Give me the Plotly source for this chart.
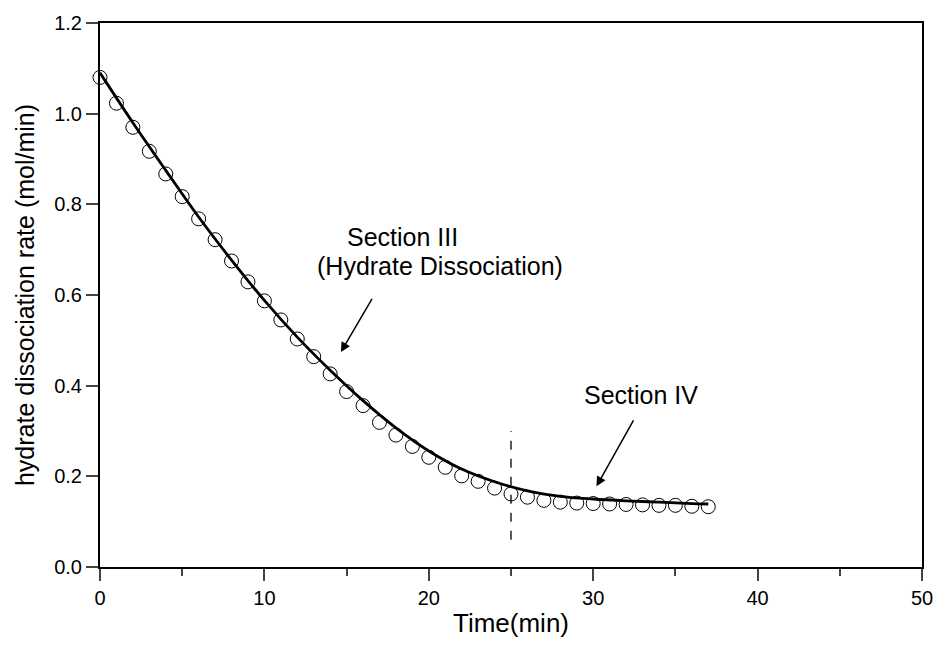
import plotly.graph_objects as go

# Measured data (open circles)
time_pts = list(range(0, 38))
rate_pts = [1.080, 1.023, 0.970, 0.917, 0.867, 0.817, 0.768, 0.722, 0.675, 0.629,
            0.587, 0.545, 0.503, 0.464, 0.426, 0.387, 0.356, 0.319, 0.291, 0.266,
            0.242, 0.220, 0.201, 0.189, 0.174, 0.161, 0.154, 0.147, 0.143, 0.141,
            0.140, 0.139, 0.138, 0.137, 0.136, 0.136, 0.134, 0.133]

# Fitted curve (solid line)
fit_t = [0, 2, 4, 6, 8, 10, 12, 14, 16, 18, 20, 22, 24, 26, 28, 30, 32, 34, 36, 37]
fit_r = [1.090, 0.980, 0.875, 0.772, 0.677, 0.588, 0.507, 0.434, 0.367, 0.307,
         0.256, 0.216, 0.188, 0.168, 0.156, 0.150, 0.146, 0.143, 0.140, 0.139]

# Section boundary
boundary_x = [25, 25]
boundary_y = [0.06, 0.30]

font = "Liberation Sans, Arial, sans-serif"

fig = go.Figure()
fig.add_trace(go.Scatter(x=fit_t, y=fit_r, mode="lines",
                         line=dict(color="black", width=2.8, shape="spline"),
                         showlegend=False, cliponaxis=False))
fig.add_trace(go.Scatter(x=time_pts, y=rate_pts, mode="markers",
                         marker=dict(symbol="circle-open", size=14,
                                     color="black", line=dict(width=1)),
                         showlegend=False, cliponaxis=False))
fig.add_trace(go.Scatter(x=boundary_x, y=boundary_y, mode="lines",
                         line=dict(color="black", width=1.3, dash="dash"),
                         showlegend=False))

fig.add_annotation(x=18.43, y=0.727, text="Section III", showarrow=False,
                   font=dict(family=font, size=25, color="black"))
fig.add_annotation(x=20.66, y=0.664, text="(Hydrate Dissociation)", showarrow=False,
                   font=dict(family=font, size=25, color="black"))
fig.add_annotation(x=14.65, y=0.474, ax=16.6, ay=0.595, xref="x", yref="y",
                   axref="x", ayref="y", text="", showarrow=True,
                   arrowhead=2, arrowsize=1.3, arrowwidth=1.5, arrowcolor="black")
fig.add_annotation(x=32.9, y=0.379, text="Section IV", showarrow=False,
                   font=dict(family=font, size=25, color="black"))
fig.add_annotation(x=30.2, y=0.178, ax=32.5, ay=0.327, xref="x", yref="y",
                   axref="x", ayref="y", text="", showarrow=True,
                   arrowhead=2, arrowsize=1.3, arrowwidth=1.5, arrowcolor="black")

fig.update_layout(
    width=945, height=645,
    margin=dict(l=100, r=15, t=22, b=78),
    plot_bgcolor="white", paper_bgcolor="white",
    font=dict(family=font, size=20, color="black"),
)
fig.update_xaxes(range=[0, 50], dtick=10, tick0=0, ticks="outside", ticklen=12,
                 tickwidth=2, showline=True, linewidth=2, linecolor="black",
                 mirror=True, showgrid=False, zeroline=False,
                 minor=dict(ticks="outside", dtick=5, ticklen=7, tickwidth=2),
                 title=dict(text="Time(min)", font=dict(size=26), standoff=6),
                 tickfont=dict(size=20))
fig.update_yaxes(range=[0, 1.2], dtick=0.2, tick0=0, tickformat=".1f",
                 ticks="outside", ticklen=12, tickwidth=2, showline=True,
                 linewidth=2, linecolor="black", mirror=True, showgrid=False,
                 zeroline=False,
                 title=dict(text="hydrate dissociation rate (mol/min)",
                            font=dict(size=25), standoff=12),
                 tickfont=dict(size=20))

fig.write_html("out.html")
